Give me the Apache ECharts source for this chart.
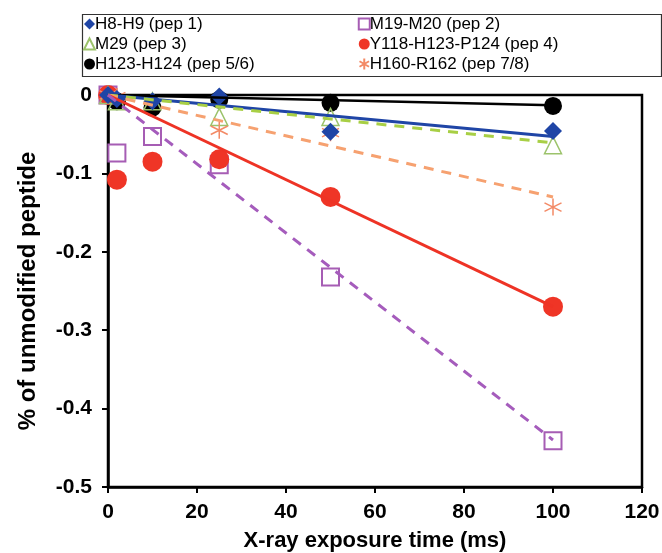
<!DOCTYPE html>
<html>
<head>
<meta charset="utf-8">
<script src="https://cdn.jsdelivr.net/npm/echarts@6/dist/echarts.min.js"></script>
<style>
html,body{margin:0;padding:0;background:#fff;}
#c{width:662px;height:553px;}
</style>
</head>
<body>
<div id="c"></div>
<script>
// ---- data ----
const xValues = [0, 2, 10, 25, 50, 100];
const pep1 = [0, -0.005, -0.008, -0.002, -0.047, -0.046];
const pep2 = [0, -0.074, -0.053, -0.089, -0.232, -0.441];
const pep3 = [0, -0.008, -0.008, -0.028, -0.028, -0.064];
const pep4 = [0, -0.108, -0.085, -0.082, -0.130, -0.270];
const pep56 = [0, -0.008, -0.016, -0.006, -0.010, -0.014];
const pep78 = [0, -0.002, 0.003, -0.045, -0.048, -0.143];
// trendline endpoints [x, y]
const trendX = [0, 100];
const trend1 = [0, -0.053];
const trend2 = [0, -0.440];
const trend3 = [0, -0.061];
const trend4 = [0, -0.270];
const trend56 = [0, -0.013];
const trend78 = [0, -0.130];
const names = ['H8-H9 (pep 1)', 'M19-M20 (pep 2)', 'M29 (pep 3)', 'Y118-H123-P124 (pep 4)', 'H123-H124 (pep 5/6)', 'H160-R162 (pep 7/8)'];
const xTicks = {min: 0, max: 120, interval: 20};
const yTicks = {min: -0.5, max: 0, interval: 0.1};

const pts = arr => xValues.map((x, i) => [x, arr[i]]);
const tl = arr => trendX.map((x, i) => [x, arr[i]]);

const asterisk = 'path://M0,-10 L0,10 M-8.66,-5 L8.66,5 M-8.66,5 L8.66,-5';

const chart = echarts.init(document.getElementById('c'));
const tickFont = {fontFamily: 'Liberation Sans', fontWeight: 'bold', fontSize: 21, color: '#000'};

function trend(name, data, color, type, width) {
  return {type: 'line', name: name + '_t', data: tl(data), showSymbol: false, symbol: 'none',
    lineStyle: {color: color, width: width, type: type}, z: 3, silent: true};
}
const legendText = {fontFamily: 'Liberation Sans', fontSize: 17, color: '#000', lineHeight: 20, padding: [0,0,0,-5]};

chart.setOption({
  animation: false,
  backgroundColor: '#fff',
  grid: {left: 108, right: 20, top: 95, bottom: 66, containLabel: false, outerBoundsMode: 'none',
    show: true, borderColor: '#000', borderWidth: 2.5},
  xAxis: {type: 'value', min: xTicks.min, max: xTicks.max, interval: xTicks.interval,
    axisLine: {show: true, onZero: false, lineStyle: {color: '#000', width: 2.5}},
    axisTick: {show: true, inside: false, length: 6, lineStyle: {color: '#000', width: 2}},
    splitLine: {show: false},
    axisLabel: Object.assign({margin: 15}, tickFont),
    name: 'X-ray exposure time (ms)', nameLocation: 'middle', nameGap: 43,
    nameTextStyle: {fontFamily: 'Liberation Sans', fontWeight: 'bold', fontSize: 22, color: '#000'}
  },
  yAxis: {type: 'value', min: yTicks.min, max: yTicks.max, interval: yTicks.interval,
    axisLine: {show: true, onZero: false, lineStyle: {color: '#000', width: 2.5}},
    axisTick: {show: true, inside: false, length: 6, lineStyle: {color: '#000', width: 2}},
    splitLine: {show: false},
    axisLabel: Object.assign({margin: 16}, tickFont),
    name: '% of unmodified peptide', nameLocation: 'middle', nameGap: 68,
    nameTextStyle: {fontFamily: 'Liberation Sans', fontWeight: 'bold', fontSize: 24, color: '#000'}
  },
  legend: [
    {data: [names[0], names[2], names[4]], orient: 'vertical', left: 78, top: 9,
     itemWidth: 11, itemHeight: 11, itemGap: 0, textStyle: legendText},
    {data: [names[1], names[3], names[5]], orient: 'vertical', left: 352, top: 9,
     itemWidth: 11, itemHeight: 11, itemGap: 0, textStyle: legendText}
  ],
  graphic: [{type: 'rect', left: 80, top: 12, shape: {width: 579, height: 62},
    style: {fill: 'none', stroke: '#333', lineWidth: 1.2}, z: 0}],
  series: [
    trend(names[4], trend56, '#000', 'solid', 2.5),
    trend(names[0], trend1, '#1f45a6', 'solid', 3),
    trend(names[2], trend3, '#a8cf45', [10, 8], 3),
    trend(names[5], trend78, '#f6a170', [10, 8], 3),
    trend(names[3], trend4, '#ee3325', 'solid', 3),
    trend(names[1], trend2, '#a55cbc', [10, 8], 3),
    {type: 'scatter', name: names[4], data: pts(pep56), symbol: 'circle', symbolSize: 18,
     itemStyle: {color: '#000', opacity: 1}, z: 2},
    {type: 'scatter', name: names[1], data: pts(pep2), symbol: 'rect', symbolSize: 17,
     itemStyle: {color: '#fff', borderColor: '#a65db4', borderWidth: 2, opacity: 1}, z: 2},
    {type: 'scatter', name: names[3], data: pts(pep4), symbol: 'circle', symbolSize: 20,
     itemStyle: {color: '#ef3526', opacity: 1}, z: 2},
    {type: 'scatter', name: names[2], data: pts(pep3), symbol: 'triangle', symbolSize: 17,
     itemStyle: {color: 'rgba(255,255,255,0)', borderColor: '#9cc36b', borderWidth: 1.5, opacity: 1}, z: 2},
    {type: 'scatter', name: names[5], data: pts(pep78), symbol: asterisk, symbolSize: 17,
     itemStyle: {color: 'none', borderColor: '#f38a66', borderWidth: 1.5, opacity: 1}, z: 2},
    {type: 'scatter', name: names[0], data: pts(pep1), symbol: 'diamond', symbolSize: 18,
     itemStyle: {color: '#1f45a6', opacity: 1}, z: 2}
  ]
});
</script>
</body>
</html>
